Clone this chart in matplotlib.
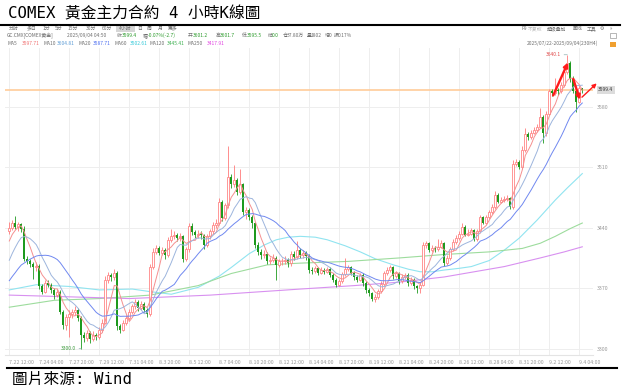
import numpy as np
import pandas as pd
import matplotlib
matplotlib.use('Agg')
import matplotlib.pyplot as plt
from matplotlib.lines import Line2D
from matplotlib.patches import Rectangle
from matplotlib.transforms import blended_transform_factory

plt.rcParams['font.family'] = ['Noto Sans CJK SC', 'DejaVu Sans']
plt.rcParams['axes.unicode_minus'] = False

# ==========================================
# 1. 資料 (4 小時 K 線, 7/22 12:00 ~ 9/4 04:00, 讀自圖片)
# ==========================================
opens = [
    3436, 3440, 3446, 3441, 3444, 3439, 3404, 3401, 3398, 3394,
    3396, 3372, 3366, 3376, 3374, 3368, 3362, 3366, 3343, 3327,
    3337, 3340, 3342, 3345, 3335, 3316, 3312, 3318, 3311, 3316,
    3313, 3322, 3330, 3380, 3385, 3383, 3388, 3326, 3322, 3330,
    3336, 3343, 3349, 3354, 3347, 3352, 3345, 3340, 3395, 3412,
    3416, 3411, 3414, 3408, 3426, 3430, 3432, 3428, 3430, 3404,
    3415, 3442, 3435, 3431, 3433, 3431, 3420, 3430, 3436, 3443,
    3445, 3470, 3451, 3466, 3499, 3490, 3495, 3481, 3490, 3458,
    3460, 3452, 3445, 3420, 3412, 3408, 3410, 3401, 3403, 3405,
    3397, 3401, 3401, 3403, 3399, 3410, 3406, 3414, 3408, 3411,
    3407, 3391, 3390, 3393, 3388, 3391, 3389, 3392, 3385, 3380,
    3374, 3378, 3386, 3392, 3394, 3388, 3383, 3380, 3385, 3376,
    3368, 3364, 3358, 3360, 3367, 3375, 3387, 3391, 3394, 3384,
    3387, 3378, 3383, 3385, 3376, 3380, 3372, 3370, 3374, 3420,
    3422, 3414, 3417, 3415, 3418, 3422, 3399, 3405, 3415, 3424,
    3428, 3433, 3441, 3432, 3433, 3437, 3427, 3436, 3452, 3446,
    3452, 3458, 3464, 3478, 3470, 3472, 3473, 3474, 3464, 3514,
    3516, 3510, 3530, 3548, 3545, 3550, 3553, 3557, 3568, 3550,
    3572, 3598, 3596, 3599, 3598, 3605, 3620, 3630, 3612, 3598,
    3586, 3601.2]

highs = [
    3447, 3449, 3453, 3447, 3446, 3442, 3407, 3404, 3400, 3400,
    3398, 3375, 3380, 3380, 3376, 3370, 3369, 3368, 3345, 3340,
    3345, 3346, 3349, 3347, 3338, 3319, 3322, 3320, 3320, 3318,
    3325, 3334, 3384, 3389, 3387, 3392, 3390, 3329, 3333, 3339,
    3346, 3352, 3358, 3356, 3355, 3354, 3347, 3398, 3416, 3420,
    3419, 3418, 3416, 3429, 3439, 3436, 3434, 3434, 3432, 3418,
    3446, 3445, 3437, 3437, 3436, 3433, 3433, 3439, 3447, 3450,
    3474, 3472, 3469, 3534, 3502, 3512, 3498, 3508, 3492, 3464,
    3463, 3455, 3447, 3423, 3415, 3414, 3412, 3406, 3409, 3407,
    3404, 3405, 3407, 3405, 3413, 3413, 3425, 3416, 3414, 3413,
    3409, 3394, 3396, 3395, 3394, 3393, 3395, 3394, 3387, 3382,
    3381, 3389, 3405, 3397, 3396, 3390, 3385, 3388, 3387, 3378,
    3370, 3366, 3363, 3369, 3378, 3390, 3394, 3397, 3396, 3390,
    3389, 3386, 3388, 3387, 3383, 3382, 3374, 3377, 3424, 3425,
    3424, 3420, 3419, 3427, 3426, 3424, 3408, 3418, 3427, 3431,
    3436, 3445, 3443, 3438, 3440, 3439, 3439, 3455, 3454, 3455,
    3461, 3467, 3482, 3480, 3476, 3477, 3478, 3476, 3518, 3520,
    3518, 3534, 3555, 3551, 3553, 3556, 3560, 3578, 3570, 3575,
    3601, 3600, 3613, 3602, 3608, 3623, 3640.1, 3633, 3615, 3600,
    3605, 3601.7]

lows = [
    3433, 3437, 3438, 3436, 3435, 3402, 3398, 3394, 3381, 3390,
    3369, 3363, 3364, 3371, 3365, 3358, 3360, 3340, 3323, 3322,
    3314, 3336, 3339, 3332, 3300, 3308, 3309, 3307, 3309, 3310,
    3311, 3319, 3328, 3376, 3378, 3380, 3322, 3318, 3320, 3327,
    3333, 3340, 3346, 3344, 3345, 3342, 3337, 3338, 3392, 3409,
    3408, 3408, 3404, 3406, 3423, 3427, 3425, 3425, 3400, 3401,
    3412, 3432, 3428, 3428, 3427, 3415, 3418, 3427, 3433, 3440,
    3443, 3448, 3449, 3463, 3486, 3487, 3478, 3479, 3455, 3450,
    3449, 3440, 3416, 3408, 3404, 3405, 3398, 3398, 3400, 3379,
    3394, 3397, 3398, 3395, 3396, 3403, 3404, 3405, 3405, 3403,
    3388, 3386, 3387, 3385, 3386, 3386, 3387, 3383, 3377, 3371,
    3372, 3376, 3384, 3390, 3385, 3380, 3377, 3378, 3373, 3365,
    3361, 3355, 3354, 3358, 3365, 3373, 3385, 3389, 3381, 3382,
    3375, 3376, 3381, 3373, 3374, 3369, 3365, 3364, 3372, 3417,
    3412, 3412, 3412, 3413, 3416, 3396, 3397, 3403, 3413, 3421,
    3426, 3431, 3430, 3430, 3431, 3425, 3425, 3434, 3444, 3444,
    3450, 3456, 3462, 3468, 3468, 3470, 3471, 3462, 3462, 3511,
    3508, 3508, 3528, 3541, 3543, 3548, 3551, 3555, 3538, 3546,
    3570, 3592, 3594, 3594, 3596, 3603, 3618, 3609, 3596, 3574,
    3584, 3595.5]

closes = [
    3440, 3446, 3441, 3444, 3439, 3404, 3401, 3398, 3394, 3396,
    3372, 3366, 3376, 3374, 3368, 3362, 3366, 3343, 3327, 3337,
    3340, 3342, 3345, 3335, 3316, 3312, 3318, 3311, 3316, 3313,
    3322, 3330, 3380, 3385, 3383, 3388, 3326, 3322, 3330, 3336,
    3343, 3349, 3354, 3347, 3352, 3345, 3340, 3395, 3412, 3416,
    3411, 3414, 3408, 3426, 3430, 3432, 3428, 3430, 3404, 3415,
    3442, 3435, 3431, 3433, 3431, 3420, 3430, 3436, 3443, 3445,
    3470, 3451, 3466, 3499, 3490, 3495, 3481, 3490, 3458, 3460,
    3452, 3445, 3420, 3412, 3408, 3410, 3401, 3403, 3405, 3397,
    3401, 3401, 3403, 3399, 3410, 3406, 3414, 3408, 3411, 3407,
    3391, 3390, 3393, 3388, 3391, 3389, 3392, 3385, 3380, 3374,
    3378, 3386, 3392, 3394, 3388, 3383, 3380, 3385, 3376, 3368,
    3364, 3358, 3360, 3367, 3375, 3387, 3391, 3394, 3384, 3387,
    3378, 3383, 3385, 3376, 3380, 3372, 3370, 3374, 3420, 3422,
    3414, 3417, 3415, 3418, 3422, 3399, 3405, 3415, 3424, 3428,
    3433, 3441, 3432, 3433, 3437, 3427, 3436, 3452, 3446, 3452,
    3458, 3464, 3478, 3470, 3472, 3473, 3474, 3464, 3514, 3516,
    3510, 3530, 3548, 3545, 3550, 3553, 3557, 3568, 3550, 3572,
    3598, 3596, 3599, 3598, 3605, 3620, 3630, 3612, 3598, 3586,
    3601.2, 3599.4]

# 視窗前 19 根收盤 (供 MA5/10/20 起算)
pre_closes = [3348, 3352, 3350, 3356, 3360, 3354, 3352, 3358, 3362, 3358,
              3366, 3372, 3381, 3388, 3393, 3408, 3417, 3425, 3433]

# 長週期均線 (讀自圖片的取樣點)
ma60_bars = [0, 9, 20, 30, 41, 47, 54, 63, 70, 74, 80, 85, 89, 93, 97, 102, 106,
             112, 117, 122, 128, 133, 137, 141, 145, 150, 154, 160, 165, 170,
             176, 182, 186, 191]
ma60_vals = [3368, 3374, 3372, 3368, 3369, 3366, 3363, 3371, 3384, 3394, 3410,
             3420, 3426, 3429, 3430, 3429, 3426, 3419, 3412, 3404, 3397, 3392,
             3389, 3389, 3391, 3393, 3395, 3402, 3414, 3428, 3449, 3472, 3486,
             3502.6]
ma120_bars = [0, 15, 30, 47, 63, 74, 86, 97, 113, 130, 145, 160, 171, 177, 182,
              187, 191]
ma120_vals = [3348, 3356, 3358, 3362, 3373, 3387, 3397, 3399, 3401, 3405, 3409,
              3412, 3416, 3422, 3430, 3439, 3445.4]
ma250_bars = [0, 20, 40, 67, 97, 115, 130, 145, 155, 165, 177, 185, 191]
ma250_vals = [3362, 3360, 3358, 3362, 3369, 3373, 3377, 3383, 3389, 3395, 3405,
              3412, 3417.9]

x_labels = ['7.22 12:00', '7.24 04:00', '7.27 20:00', '7.29 12:00', '7.31 04:00',
            '8.3 20:00', '8.5 12:00', '8.7 04:00', '8.10 20:00', '8.12 12:00',
            '8.14 04:00', '8.17 20:00', '8.19 12:00', '8.21 04:00', '8.24 20:00',
            '8.26 12:00', '8.28 04:00', '8.31 20:00', '9.2 12:00', '9.4 04:00']
y_ticks = [3300, 3370, 3440, 3510, 3580]

ma_names = ['MA5', 'MA10', 'MA20', 'MA60', 'MA120', 'MA250']
ma_header = [3597.71, 3604.81, 3587.71, 3502.61, 3445.41, 3417.91]

# 手繪箭頭 (起點, 終點) 以 K 線序號/價格表示
arrows = [((181.3, 3593), (186.2, 3631)),
          ((188.0, 3612), (190.2, 3588))]
arrow_thin = ((190.9, 3591), (195.8, 3607))

# ==========================================
# 2. 版面
# ==========================================
W, H = 623, 392
fig = plt.figure(figsize=(W / 100, H / 100), dpi=100)


def fx(x):
    return x / W


def fy(y):
    return 1 - y / H


title_font = ['DejaVu Sans Mono', 'Noto Sans CJK TC']
fig.text(fx(8), fy(13.5), 'COMEX 黃金主力合約 4 小時K線圖', family=title_font,
         fontsize=11.3, va='center', ha='left', color='black')
fig.add_artist(Line2D([0.0, 0.995], [fy(25), fy(25)], color='black', lw=1.5))
fig.add_artist(Line2D([0.012, 0.99], [fy(368), fy(368)], color='black', lw=1.5))
fig.text(fx(12), fy(379), '圖片來源: Wind', family=title_font,
         fontsize=11.3, va='center', ha='left', color='black')

ui_gray = '#6e6e6e'
num_green = '#2a9a2a'
small = 3.5
tick_size = 3.8

# 工具列
toolbar = [('分时', 9), ('多日', 27), ('1分', 43), ('5分', 55), ('15分', 68),
           ('30分', 86), ('60分', 102), ('4小时', 119), ('日', 137), ('周', 147),
           ('月', 158), ('更多', 168)]
fig.add_artist(Rectangle((fx(116), fy(32)), fx(135) - fx(116), fy(25.5) - fy(32),
                         color='#d6d6d6', lw=0))
for t, x in toolbar:
    fig.text(fx(x), fy(28.7), t, fontsize=small, color=ui_gray, va='center')

right_tools = [('F9', 522, ui_gray), ('不复权', 528, '#b5b5b5'), ('超级叠加', 547, ui_gray),
               ('画线', 573, ui_gray), ('工具', 587, ui_gray), ('⚙', 600, ui_gray),
               ('»', 610, ui_gray)]
for t, x, c in right_tools:
    fig.text(fx(x), fy(28.7), t, fontsize=small, color=c, va='center')
fig.add_artist(Rectangle((fx(610), fy(38)), fx(6), fy(0) - fy(5), fill=False,
                         ec='#9a9a9a', lw=0.5))
fig.add_artist(Rectangle((fx(610), fy(47)), fx(6), fy(0) - fy(4.5), color='#f0a030', lw=0))

# 行情列
info = [('GC.CMX[COMEX黄金]', 7, ui_gray), ('2025/09/04 04:50', 67, ui_gray),
        ('收', 117, ui_gray), (f'{closes[-1]:.1f}', 122, num_green),
        ('幅', 143, ui_gray), ('-0.07%(-2.7)', 148, num_green),
        ('开', 188, ui_gray), (f'{opens[-1]:.1f}', 193, num_green),
        ('高', 216, ui_gray), (f'{highs[-1]:.1f}', 220, num_green),
        ('低', 242, ui_gray), (f'{lows[-1]:.1f}', 247, num_green),
        ('结', 268, ui_gray), ('0.0', 272, num_green),
        ('仓', 283, ui_gray), ('37.80万', 287, ui_gray),
        ('量', 307, ui_gray), ('1802', 311, ui_gray),
        ('增', 325, ui_gray), ('0', 329, ui_gray),
        ('振', 334, ui_gray), ('0.17%', 338, ui_gray)]
for t, x, c in info:
    fig.text(fx(x), fy(35.3), t, fontsize=small, color=c, va='center')

ma_text_colors = ['#f07070', '#5b9bd5', '#4a6cf0', '#30c8d8', '#3cb050', '#e040e0']
ma_line_colors = ['#f59090', '#9db5dd', '#7088f0', '#90e4f0', '#9ddc9d', '#d890f0']
ma_pos = [(8, 22), (43, 57), (78, 93), (115, 130), (150, 167), (188, 207)]
for name, val, col, (xn, xv) in zip(ma_names, ma_header, ma_text_colors, ma_pos):
    fig.text(fx(xn), fy(43.5), name, fontsize=small, color=ui_gray, va='center')
    fig.text(fx(xv), fy(43.5), f'{val:.2f}', fontsize=small, color=col, va='center')
fig.text(fx(527), fy(43.5), '2025/07/22-2025/09/04(230H4)', fontsize=small,
         color=ui_gray, va='center')

# ==========================================
# 3. K 線主圖
# ==========================================
ax = fig.add_axes([fx(5), 1 - 355 / H, (593 - 5) / W, (355 - 48) / H])
ax.set_xlim(-1.43, 194.57)
ax.set_ylim(3292.7, 3647.9)

o = np.array(opens, float)
h = np.array(highs, float)
l = np.array(lows, float)
c = np.array(closes, float)
idx = np.arange(len(c))
up = c >= o
top = np.maximum(o, c)
bot = np.minimum(o, c)
body = np.maximum(top - bot, 0.6)

red = '#ff7b7b'
green = '#1e9a1e'
ax.vlines(idx[up], top[up], h[up], color=red, lw=0.6, zorder=3)
ax.vlines(idx[up], l[up], bot[up], color=red, lw=0.6, zorder=3)
ax.vlines(idx[~up], l[~up], h[~up], color=green, lw=0.6, zorder=3)
ax.bar(idx[up], body[up], bottom=bot[up], width=0.8, facecolor='white',
       edgecolor=red, linewidth=0.55, zorder=4)
ax.bar(idx[~up], body[~up], bottom=bot[~up], width=0.75, color=green,
       linewidth=0, zorder=4)

# 均線
full = pd.Series(pre_closes + closes, dtype=float)
n_pre = len(pre_closes)
for n, col in zip([5, 10, 20], ma_line_colors[:3]):
    ma = full.rolling(n).mean().to_numpy()[n_pre:]
    ax.plot(idx, ma, color=col, lw=0.7, zorder=5)
ax.plot(ma60_bars, ma60_vals, color=ma_line_colors[3], lw=0.8, zorder=2)
ax.plot(ma120_bars, ma120_vals, color=ma_line_colors[4], lw=0.8, zorder=2)
ax.plot(ma250_bars, ma250_vals, color=ma_line_colors[5], lw=0.8, zorder=2)

# 最新價線與標籤
ax.axhline(c[-1], color='#ffcc9a', lw=1.2, zorder=1)
tr = blended_transform_factory(ax.transAxes, ax.transData)
ax.text(1 + 5 / 588, c[-1], f'{c[-1]:.1f}', transform=tr, fontsize=small,
        color='#333333', va='center', ha='left',
        bbox=dict(boxstyle='square,pad=0.3', fc='#dcdcdc', ec='none'))

# 最高/最低標記
imax = int(np.argmax(h))
imin = int(np.argmin(l))
ax.annotate(f'{h[imax]:.1f}', xy=(imax, h[imax]), xytext=(-6, 0),
            textcoords='offset pixels', ha='right', va='center', fontsize=small,
            color='#e04848', arrowprops=dict(arrowstyle='-', color='#8fb0b0', lw=0.5,
                                             shrinkA=0, shrinkB=0))
ax.annotate(f'{l[imin]:.1f}', xy=(imin, l[imin]), xytext=(-5, 0),
            textcoords='offset pixels', ha='right', va='center', fontsize=small,
            color='#3a9a3a', arrowprops=dict(arrowstyle='-', color='#8fb0b0', lw=0.5,
                                             shrinkA=0, shrinkB=0))

# 紅色手繪箭頭
for start, end in arrows:
    ax.annotate('', xy=end, xytext=start, annotation_clip=False,
                arrowprops=dict(arrowstyle='-|>', color='#ff1a1a', lw=1.7,
                                mutation_scale=6, shrinkA=0, shrinkB=0), zorder=7)
ax.annotate('', xy=arrow_thin[1], xytext=arrow_thin[0], annotation_clip=False,
            arrowprops=dict(arrowstyle='-|>', color='#ff1a1a', lw=1.0,
                            mutation_scale=6, shrinkA=0, shrinkB=0), zorder=7)

# 格線與座標軸
ax.set_yticks(y_ticks)
ax.set_xticks(np.arange(0, len(c), 10))
ax.set_xticklabels(x_labels)
for lab in ax.get_xticklabels():
    lab.set_ha('left')
ax.yaxis.tick_right()
ax.tick_params(axis='y', length=0, pad=3, labelsize=tick_size, labelcolor='#9a9a9a')
ax.tick_params(axis='x', length=0, pad=3.5, labelsize=tick_size, labelcolor='#9a9a9a')
ax.grid(True, color='#eeeeee', lw=0.7, zorder=0)
ax.set_axisbelow(True)
for side in ['top', 'left', 'right']:
    ax.spines[side].set_visible(False)
ax.spines['bottom'].set_color('#e4e4e4')
ax.spines['bottom'].set_linewidth(0.8)

fig.savefig('out.png', dpi=100, facecolor='white')
